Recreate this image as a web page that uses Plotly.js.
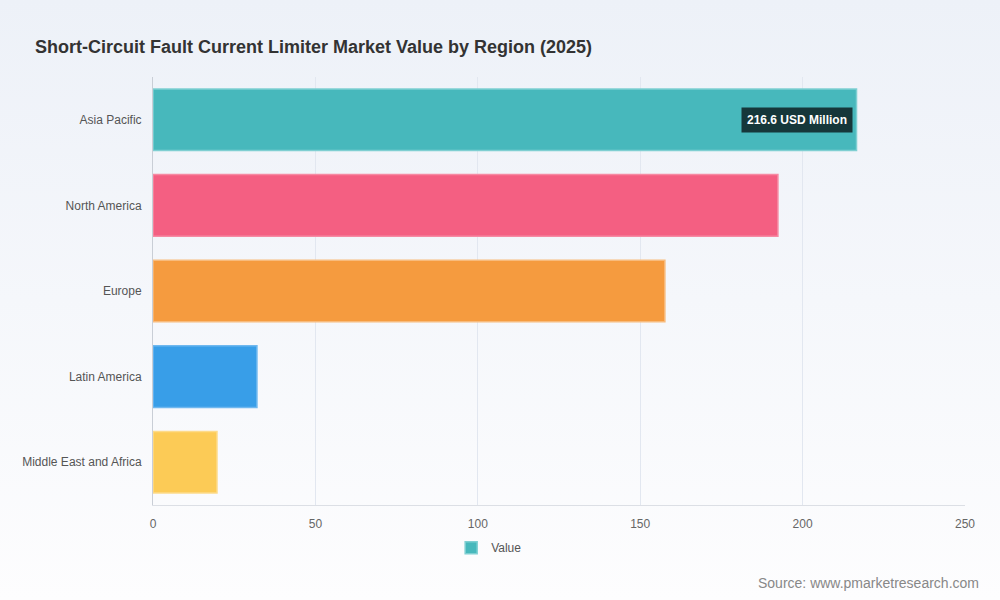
<!DOCTYPE html>
<html>
<head>
<meta charset="utf-8">
<script src="https://cdn.plot.ly/plotly-3.0.1.min.js"></script>
<style>
html,body{margin:0;padding:0;width:1000px;height:600px;overflow:hidden;}
body{background:linear-gradient(180deg,#edf1f8 0%,#f5f7fb 50%,#fdfdfe 100%);}
#chart{width:1000px;height:600px;}
</style>
</head>
<body>
<div id="chart"></div>
<script>
const regions = ["Asia Pacific","North America","Europe","Latin America","Middle East and Africa"];
const values = [216.6, 192.4, 157.6, 32.0, 19.7];
const barColors = ["#47b8bc","#f45f82","#f59b3f","#389ee8","#fccb56"];
const lineColors = ["#7fcfd2","#f68aa3","#f8bb7c","#6fb8ef","#fddb8a"];
const tickVals = [0,50,100,150,200,250];

const trace = {
  type: "bar",
  orientation: "h",
  y: regions,
  x: values,
  name: "Value",
  marker: {color: barColors, line: {color: lineColors, width: 1.5}},
  hoverinfo: "none",
  showlegend: true
};

const layout = {
  width: 1000, height: 600,
  paper_bgcolor: "rgba(0,0,0,0)",
  plot_bgcolor: "rgba(0,0,0,0)",
  margin: {l: 153, r: 35, t: 77, b: 95},
  font: {family: "Liberation Sans, Arial, sans-serif", color: "#666", size: 12},
  title: {text: "<b>Short-Circuit Fault Current Limiter Market Value by Region (2025)</b>",
          x: 0.035, xanchor: "left", y: 0.923, yanchor: "middle",
          font: {size: 18, color: "#333", family: "Liberation Sans, Arial, sans-serif"}},
  bargap: 0.28,
  xaxis: {range: [0, 250], tickvals: tickVals, showgrid: true, gridcolor: "#e2e7f0",
          zeroline: false, showline: true, linecolor: "#dcdfe5", ticks: "", ticklen: 0,
          ticklabelstandoff: 8,
          tickfont: {size: 12, color: "#666"}, fixedrange: true},
  yaxis: {autorange: "reversed", showgrid: false, zeroline: false, showline: true,
          linecolor: "#c9ced6", ticks: "", ticklabelstandoff: 8,
          tickfont: {size: 12, color: "#555"}, fixedrange: true},
  legend: {orientation: "h", x: 0.414, xanchor: "center", y: -0.1, yanchor: "middle",
           font: {size: 12, color: "#555"}, bgcolor: "rgba(0,0,0,0)"},
  annotations: [
    {x: values[0], y: regions[0], xref: "x", yref: "y", xanchor: "right", yanchor: "middle",
     xshift: -4, text: "<b>" + values[0] + " USD Million</b>", showarrow: false,
     bgcolor: "#16373a", borderpad: 5, font: {color: "#ffffff", size: 12}},
    {x: 1, y: 0, xref: "paper", yref: "paper", xanchor: "right", yanchor: "middle",
     xshift: 16, yshift: -78, text: "Source: www.pmarketresearch.com", showarrow: false,
     font: {size: 14, color: "#888"}}
  ]
};

Plotly.newPlot("chart", [trace], layout, {displayModeBar: false, staticPlot: true});
</script>
</body>
</html>
